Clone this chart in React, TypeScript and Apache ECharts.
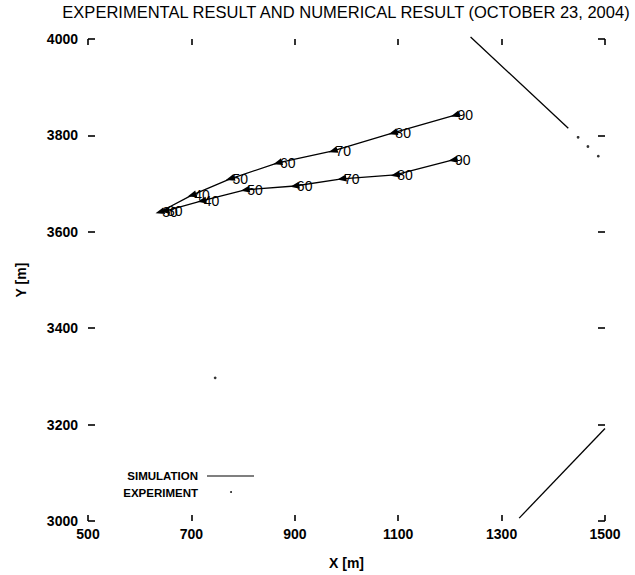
import React, { useEffect, useRef } from "react";
import * as echarts from "echarts";

// Elapsed time [min] marked along each simulated track
const minutes = [30, 40, 50, 60, 70, 80, 90];

// Simulated tracks (positions at the marked times)
const simUpperX = [639, 701, 775, 867, 974, 1090, 1210];
const simUpperY = [3641, 3676, 3710, 3743, 3768, 3805, 3842];
const simLowerX = [649, 720, 804, 900, 991, 1094, 1206];
const simLowerY = [3643, 3664, 3687, 3695, 3710, 3718, 3749];

// Simulated tracks running along the right-hand side
const simNorthX = [1240, 1429];
const simNorthY = [4004, 3815];
const simSouthX = [1334, 1500];
const simSouthY = [3006, 3192];

// Experiment, plotted as a sparse dotted trace
const expX = [1448, 1467, 1487, 746];
const expY = [3796, 3777, 3757, 3297];

const X_MIN = 500;
const X_MAX = 1500;
const X_STEP = 200;
const Y_MIN = 3000;
const Y_MAX = 4000;
const Y_STEP = 200;

const FONT = "'Liberation Sans', Arial, Helvetica, sans-serif";

const zip = (xs: number[], ys: number[]) => xs.map((x, i) => [x, ys[i]]);

const tickStyle = { color: "#000", width: 1.6 };

export default function App() {
  const ref = useRef<HTMLDivElement>(null);

  useEffect(() => {
    if (!ref.current) return;
    const chart = echarts.init(ref.current, null, { renderer: "svg" });

    const trackSeries = (xs: number[], ys: number[], rotate: number) => ({
      type: "line",
      name: "SIMULATION",
      data: zip(xs, ys),
      symbol: "triangle",
      symbolSize: [7, 9],
      symbolRotate: rotate,
      showAllSymbol: true,
      lineStyle: { color: "#000", width: 1.3 },
      itemStyle: { color: "#000" },
      label: {
        show: true,
        position: "right",
        distance: -3,
        formatter: (p: any) => String(minutes[p.dataIndex]),
        fontSize: 14,
        fontFamily: FONT,
        color: "#000",
      },
      labelLayout: { hideOverlap: false },
      z: 3,
    });

    const plainLine = (xs: number[], ys: number[]) => ({
      type: "line",
      name: "SIMULATION",
      data: zip(xs, ys),
      symbol: "none",
      clip: false,
      lineStyle: { color: "#000", width: 1.3 },
    });

    const labelStyle = {
      fontSize: 14,
      fontWeight: "bold",
      color: "#000",
      fontFamily: FONT,
      formatter: (v: number) => String(v),
    };

    const baseX = {
      type: "value",
      min: X_MIN,
      max: X_MAX,
      interval: X_STEP,
      axisLine: { show: false },
      splitLine: { show: false },
      axisTick: { show: true, inside: true, length: 6, lineStyle: tickStyle },
    };
    const baseY = {
      type: "value",
      min: Y_MIN,
      max: Y_MAX,
      interval: Y_STEP,
      axisLine: { show: false },
      splitLine: { show: false },
      axisTick: { show: true, inside: true, length: 7, lineStyle: tickStyle },
    };

    const legendText = (text: string, y: number) => ({
      type: "text",
      x: 198,
      y,
      style: {
        text,
        align: "right",
        verticalAlign: "middle",
        fontSize: 11.5,
        fontWeight: "bold",
        fontFamily: FONT,
        fill: "#000",
      },
    });

    chart.setOption({
      animation: false,
      backgroundColor: "#fff",
      title: {
        text: "EXPERIMENTAL RESULT AND NUMERICAL RESULT (OCTOBER 23, 2004)",
        left: 341,
        textAlign: "center",
        top: -2,
        textStyle: { fontSize: 16.5, fontWeight: "normal", color: "#000", fontFamily: FONT },
      },
      grid: { left: 88, right: 30, top: 39, bottom: 54 },
      xAxis: [
        {
          ...baseX,
          position: "bottom",
          name: "X [m]",
          nameLocation: "middle",
          nameGap: 35,
          nameTextStyle: { fontSize: 14, fontWeight: "bold", color: "#000", fontFamily: FONT },
          axisLabel: { ...labelStyle, margin: 6 },
        },
        { ...baseX, position: "top", axisLabel: { show: false } },
      ],
      yAxis: [
        {
          ...baseY,
          position: "left",
          name: "Y [m]",
          nameLocation: "middle",
          nameGap: 60,
          nameRotate: 90,
          nameTextStyle: { fontSize: 14, fontWeight: "bold", color: "#000", fontFamily: FONT },
          axisLabel: { ...labelStyle, margin: 10 },
        },
        { ...baseY, position: "right", axisLabel: { show: false } },
      ],
      series: [
        trackSeries(simUpperX, simUpperY, 107),
        trackSeries(simLowerX, simLowerY, 100),
        plainLine(simNorthX, simNorthY),
        plainLine(simSouthX, simSouthY),
        {
          type: "scatter",
          name: "EXPERIMENT",
          data: zip(expX, expY),
          symbol: "circle",
          symbolSize: 2.8,
          itemStyle: { color: "#000" },
        },
      ],
      graphic: [
        legendText("SIMULATION", 476),
        {
          type: "line",
          shape: { x1: 207, y1: 476, x2: 254, y2: 476 },
          style: { stroke: "#000", lineWidth: 1.2 },
        },
        legendText("EXPERIMENT", 493),
        {
          type: "circle",
          shape: { cx: 231, cy: 492, r: 0.9 },
          style: { fill: "#000" },
        },
      ],
    });

    return () => chart.dispose();
  }, []);

  return (
    <div
      ref={ref}
      style={{ position: "fixed", left: 0, top: 0, width: 635, height: 575, background: "#fff" }}
    />
  );
}
